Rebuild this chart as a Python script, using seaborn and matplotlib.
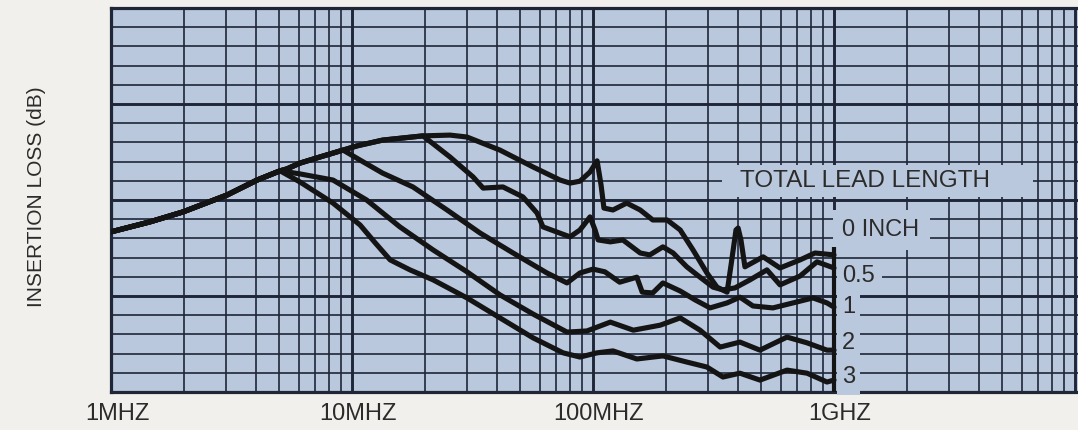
import numpy as np
import pandas as pd
import matplotlib
matplotlib.use("Agg")
import matplotlib.pyplot as plt
import matplotlib.transforms as mtransforms
from matplotlib.patches import Rectangle
from matplotlib.ticker import FixedLocator, LogLocator, MultipleLocator, NullFormatter
import seaborn as sns

# ---------------- data (frequency in MHz, insertion loss in dB) ----------------
freq_0in = [1.0, 1.45, 1.99, 3.03, 4.04, 5.03, 5.37, 6.08, 7.36, 9.18, 10.5, 13.4, 19.7, 25.5, 30.0,
            41.1, 56.4, 73.0, 80.3, 88.3, 97.2, 104, 108, 111, 121, 138, 157, 177, 203, 230, 260,
            297, 327, 360, 374, 392, 400, 411, 427, 508, 597, 723, 834, 1000]
loss_0in = [41.7, 44.3, 46.9, 51.3, 55.2, 57.6, 58.1, 59.6, 61.2, 63.0, 64.1, 65.6, 66.7, 66.9, 66.4,
            63.0, 58.6, 55.2, 54.4, 54.9, 57.3, 60.2, 53.9, 47.9, 47.4, 49.2, 47.4, 44.8, 44.8, 42.2, 37.0,
            31.0, 27.3, 26.0, 33.1, 42.2, 42.7, 39.6, 32.6, 35.2, 32.3, 34.4, 36.2, 35.7]

freq_05in = [1.0, 1.45, 1.99, 3.03, 4.04, 5.03, 5.37, 6.08, 7.36, 9.18, 10.5, 13.4, 19.7, 25.5, 31.8,
             35.0, 42.3, 51.2, 58.6, 62.0, 80.3, 88.3, 97.2, 102, 105, 118, 133, 157, 172, 195, 215,
             245, 278, 315, 346, 388, 448, 527, 597, 723, 850, 1000]
loss_05in = [41.7, 44.3, 46.9, 51.3, 55.2, 57.6, 58.1, 59.6, 61.2, 63.0, 64.1, 65.6, 66.7, 61.2, 56.0,
             53.1, 53.4, 50.8, 46.6, 43.0, 40.4, 42.2, 45.6, 42.2, 39.6, 39.1, 39.6, 36.2, 35.7, 37.8, 36.2,
             32.6, 29.9, 27.3, 26.6, 27.1, 29.2, 31.8, 27.9, 30.2, 33.9, 32.3]

freq_1in = [1.0, 1.45, 1.99, 3.03, 4.04, 5.03, 5.37, 6.08, 7.36, 9.18, 10.8, 13.4, 17.9, 24.8, 34.0,
            46.6, 64.4, 78.0, 88.3, 100, 112, 129, 152, 160, 177, 195, 230, 265, 306, 360, 407,
            461, 558, 676, 818, 935, 1000]
loss_1in = [41.7, 44.3, 46.9, 51.3, 55.2, 57.6, 58.1, 59.6, 61.2, 63.0, 60.4, 57.0, 53.4, 47.4, 41.4,
            36.2, 31.0, 28.4, 31.0, 32.0, 31.3, 28.6, 29.9, 26.0, 25.8, 28.4, 26.3, 24.0, 21.9, 23.2, 24.7,
            22.4, 21.9, 23.2, 24.5, 23.2, 22.1]

freq_2in = [1.0, 1.45, 1.99, 3.03, 4.04, 5.03, 6.08, 8.34, 11.5, 15.8, 21.7, 30.0, 41.1, 56.4, 78.0,
            94.4, 118, 147, 190, 230, 278, 337, 407, 493, 638, 773, 935, 1000]
loss_2in = [41.7, 44.3, 46.9, 51.3, 55.2, 57.6, 56.8, 55.2, 50.0, 43.0, 37.0, 31.3, 25.3, 20.3, 15.6,
            15.9, 18.2, 16.1, 17.4, 19.3, 16.1, 11.7, 13.0, 10.9, 14.3, 12.8, 10.9, 10.9]

freq_3in = [1.0, 1.45, 1.99, 3.03, 4.04, 5.03, 6.08, 8.34, 10.8, 12.5, 14.4, 17.4, 21.7, 30.0, 41.1,
            56.4, 75.1, 88.3, 104, 121, 152, 195, 245, 297, 346, 407, 493, 638, 773, 935, 1000]
loss_3in = [41.7, 44.3, 46.9, 51.3, 55.2, 57.6, 54.7, 49.2, 43.5, 38.8, 34.4, 31.8, 29.2, 24.5, 19.3,
            14.1, 10.2, 9.1, 10.2, 10.7, 8.6, 9.4, 7.8, 6.5, 3.9, 4.9, 3.1, 5.7, 4.9, 2.6, 3.1]

series_labels = ["0 INCH", "0.5", "1", "2", "3"]
legend_title = "TOTAL LEAD LENGTH"
x_tick_values = [1, 10, 100, 1000, 10000]
x_tick_labels = ["1MHZ", "10MHZ", "100MHZ", "1GHZ", ""]
y_label = "INSERTION LOSS (dB)"

# ---------------- style ----------------
FIG_BG = "#f1f0ec"
PLOT_BG = "#bac8dd"
GRID = "#1e2638"
INK = "#141414"
TEXT = "#2b2b2b"

sns.set_style("white")
plt.rcParams["font.family"] = ["Liberation Sans", "DejaVu Sans"]

fig = plt.figure(figsize=(10.78, 4.30), dpi=100, facecolor=FIG_BG)
W, H = 1078.0, 430.0
ax = fig.add_axes([111 / W, (H - 392) / H, (W - 111) / W, (392 - 8) / H])
ax.set_facecolor(PLOT_BG)
ax.set_xscale("log")
ax.set_xlim(1, 10 ** 4.0124)
ax.set_ylim(0, 100)

ax.xaxis.set_major_locator(FixedLocator(x_tick_values))
ax.xaxis.set_minor_locator(LogLocator(base=10, subs=range(2, 10), numticks=20))
ax.xaxis.set_minor_formatter(NullFormatter())
ax.set_xticklabels(x_tick_labels)
ax.yaxis.set_major_locator(MultipleLocator(25))
ax.yaxis.set_minor_locator(MultipleLocator(5))
ax.set_yticklabels([])
ax.tick_params(axis="both", which="both", length=0)
ax.tick_params(axis="x", pad=8, labelsize=17, labelcolor=TEXT)

ax.set_axisbelow(True)
ax.grid(which="major", color=GRID, lw=2.1)
ax.grid(which="minor", color=GRID, lw=1.2)

for side in ["left", "top", "bottom"]:
    ax.spines[side].set_color(GRID)
    ax.spines[side].set_linewidth(2.3)
ax.spines["right"].set_visible(False)

off = mtransforms.ScaledTranslation(6 / 100, 0, fig.dpi_scale_trans)
for lab in ax.get_xticklabels():
    lab.set_transform(lab.get_transform() + off)

# curves
curves = [(freq_0in, loss_0in), (freq_05in, loss_05in), (freq_1in, loss_1in),
          (freq_2in, loss_2in), (freq_3in, loss_3in)]
for (fx, ly), name in zip(curves, series_labels):
    df = pd.DataFrame({"freq": fx, "loss": ly})
    sns.lineplot(data=df, x="freq", y="loss", sort=False, estimator=None, color=INK,
                 lw=3.7, ax=ax, zorder=4, solid_joinstyle="round", solid_capstyle="round")
ax.set_xlabel("")
ax.set_ylabel("")

# end bar at 1 GHz
ax.vlines(1000, 0, 37.8, color=INK, lw=3.0, zorder=4)

# blank areas behind the labels
def px2f(px):
    return 10 ** ((px - 111) / 241.0)

def py2db(py):
    return (392 - py) / 3.84

def blank(x0, x1, y0, y1):
    ax.add_patch(Rectangle((px2f(x0), py2db(y1)), px2f(x1) - px2f(x0), py2db(y0) - py2db(y1),
                           facecolor=PLOT_BG, edgecolor="none", zorder=2.7, clip_on=False))

blank(722, 1033, 165, 197)   # TOTAL LEAD LENGTH
blank(833, 930, 210, 250)    # 0 INCH
blank(837, 882, 266, 286)    # 0.5
blank(837, 860, 262, 395)    # column of numbers

ax.text(px2f(740), py2db(181), legend_title, ha="left", va="center", fontsize=17.5,
        color=TEXT, zorder=6)
label_y = [230, 276, 307, 343, 377]
for name, yy in zip(series_labels, label_y):
    ax.text(px2f(842), py2db(yy), name, ha="left", va="center", fontsize=17,
            color=TEXT, zorder=6)

fig.text(37 / W, 1 - 197 / H, y_label, rotation=90, ha="center", va="center",
         fontsize=15, color=TEXT)

fig.savefig("out.png", dpi=100, facecolor=FIG_BG)
